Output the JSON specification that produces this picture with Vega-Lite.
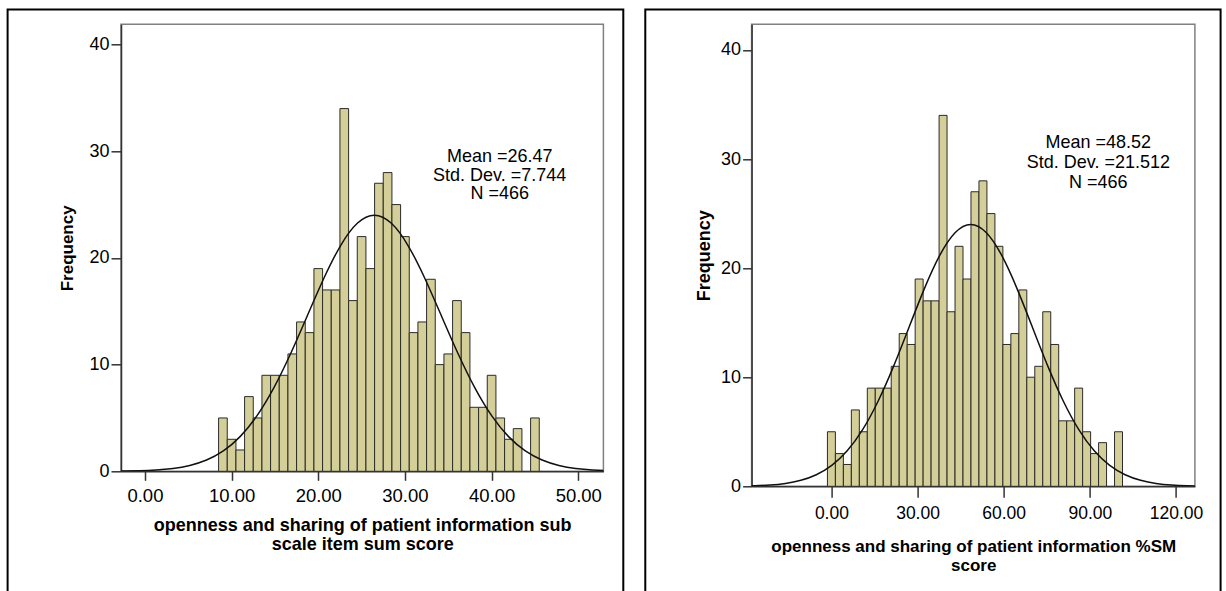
{
  "$schema": "https://vega.github.io/schema/vega-lite/v6.json",
  "background": "white",
  "padding": {"left": 5, "top": 7.3, "right": 0, "bottom": 0},
  "spacing": 16.6,
  "config": {
    "font": "Liberation Sans",
    "view": {"stroke": "#808080", "strokeWidth": 1.5},
    "axis": {"grid": false, "labelColor": "black", "titleColor": "black", "tickColor": "#333333", "domainColor": "#333333", "tickWidth": 1.5, "domainWidth": 1.5, "labelFlush": false, "titleFontWeight": "bold"}
  },
  "datasets": {
    "bins": [
      {"score": 9, "lo": 8.5, "hi": 9.5, "plo": -1.389, "phi": 1.389, "count": 5},
      {"score": 10, "lo": 9.5, "hi": 10.5, "plo": 1.389, "phi": 4.167, "count": 3},
      {"score": 11, "lo": 10.5, "hi": 11.5, "plo": 4.167, "phi": 6.944, "count": 2},
      {"score": 12, "lo": 11.5, "hi": 12.5, "plo": 6.944, "phi": 9.722, "count": 7},
      {"score": 13, "lo": 12.5, "hi": 13.5, "plo": 9.722, "phi": 12.5, "count": 5},
      {"score": 14, "lo": 13.5, "hi": 14.5, "plo": 12.5, "phi": 15.278, "count": 9},
      {"score": 15, "lo": 14.5, "hi": 15.5, "plo": 15.278, "phi": 18.056, "count": 9},
      {"score": 16, "lo": 15.5, "hi": 16.5, "plo": 18.056, "phi": 20.833, "count": 9},
      {"score": 17, "lo": 16.5, "hi": 17.5, "plo": 20.833, "phi": 23.611, "count": 11},
      {"score": 18, "lo": 17.5, "hi": 18.5, "plo": 23.611, "phi": 26.389, "count": 14},
      {"score": 19, "lo": 18.5, "hi": 19.5, "plo": 26.389, "phi": 29.167, "count": 13},
      {"score": 20, "lo": 19.5, "hi": 20.5, "plo": 29.167, "phi": 31.944, "count": 19},
      {"score": 21, "lo": 20.5, "hi": 21.5, "plo": 31.944, "phi": 34.722, "count": 17},
      {"score": 22, "lo": 21.5, "hi": 22.5, "plo": 34.722, "phi": 37.5, "count": 17},
      {"score": 23, "lo": 22.5, "hi": 23.5, "plo": 37.5, "phi": 40.278, "count": 34},
      {"score": 24, "lo": 23.5, "hi": 24.5, "plo": 40.278, "phi": 43.056, "count": 16},
      {"score": 25, "lo": 24.5, "hi": 25.5, "plo": 43.056, "phi": 45.833, "count": 22},
      {"score": 26, "lo": 25.5, "hi": 26.5, "plo": 45.833, "phi": 48.611, "count": 19},
      {"score": 27, "lo": 26.5, "hi": 27.5, "plo": 48.611, "phi": 51.389, "count": 27},
      {"score": 28, "lo": 27.5, "hi": 28.5, "plo": 51.389, "phi": 54.167, "count": 28},
      {"score": 29, "lo": 28.5, "hi": 29.5, "plo": 54.167, "phi": 56.944, "count": 25},
      {"score": 30, "lo": 29.5, "hi": 30.5, "plo": 56.944, "phi": 59.722, "count": 22},
      {"score": 31, "lo": 30.5, "hi": 31.5, "plo": 59.722, "phi": 62.5, "count": 13},
      {"score": 32, "lo": 31.5, "hi": 32.5, "plo": 62.5, "phi": 65.278, "count": 14},
      {"score": 33, "lo": 32.5, "hi": 33.5, "plo": 65.278, "phi": 68.056, "count": 18},
      {"score": 34, "lo": 33.5, "hi": 34.5, "plo": 68.056, "phi": 70.833, "count": 10},
      {"score": 35, "lo": 34.5, "hi": 35.5, "plo": 70.833, "phi": 73.611, "count": 11},
      {"score": 36, "lo": 35.5, "hi": 36.5, "plo": 73.611, "phi": 76.389, "count": 16},
      {"score": 37, "lo": 36.5, "hi": 37.5, "plo": 76.389, "phi": 79.167, "count": 13},
      {"score": 38, "lo": 37.5, "hi": 38.5, "plo": 79.167, "phi": 81.944, "count": 6},
      {"score": 39, "lo": 38.5, "hi": 39.5, "plo": 81.944, "phi": 84.722, "count": 6},
      {"score": 40, "lo": 39.5, "hi": 40.5, "plo": 84.722, "phi": 87.5, "count": 9},
      {"score": 41, "lo": 40.5, "hi": 41.5, "plo": 87.5, "phi": 90.278, "count": 5},
      {"score": 42, "lo": 41.5, "hi": 42.5, "plo": 90.278, "phi": 93.056, "count": 3},
      {"score": 43, "lo": 42.5, "hi": 43.5, "plo": 93.056, "phi": 95.833, "count": 4},
      {"score": 45, "lo": 44.5, "hi": 45.5, "plo": 98.611, "phi": 101.389, "count": 5}
    ],
    "curve": [
      {"z": -4, "xl": -4.506, "xr": -37.528, "f": 0.008},
      {"z": -3.75, "xl": -2.57, "xr": -32.15, "f": 0.0212},
      {"z": -3.5, "xl": -0.634, "xr": -26.772, "f": 0.0525},
      {"z": -3.25, "xl": 1.302, "xr": -21.394, "f": 0.1221},
      {"z": -3, "xl": 3.238, "xr": -16.016, "f": 0.2667},
      {"z": -2.75, "xl": 5.174, "xr": -10.638, "f": 0.547},
      {"z": -2.5, "xl": 7.11, "xr": -5.26, "f": 1.055},
      {"z": -2.25, "xl": 9.046, "xr": 0.118, "f": 1.91},
      {"z": -2, "xl": 10.982, "xr": 5.496, "f": 3.249},
      {"z": -1.75, "xl": 12.918, "xr": 10.874, "f": 5.192},
      {"z": -1.5, "xl": 14.854, "xr": 16.252, "f": 7.794},
      {"z": -1.25, "xl": 16.79, "xr": 21.63, "f": 10.991},
      {"z": -1, "xl": 18.726, "xr": 27.008, "f": 14.561},
      {"z": -0.75, "xl": 20.662, "xr": 32.386, "f": 18.121},
      {"z": -0.5, "xl": 22.598, "xr": 37.764, "f": 21.186},
      {"z": -0.25, "xl": 24.534, "xr": 43.142, "f": 23.268},
      {"z": 0, "xl": 26.47, "xr": 48.52, "f": 24.007},
      {"z": 0.25, "xl": 28.406, "xr": 53.898, "f": 23.268},
      {"z": 0.5, "xl": 30.342, "xr": 59.276, "f": 21.186},
      {"z": 0.75, "xl": 32.278, "xr": 64.654, "f": 18.121},
      {"z": 1, "xl": 34.214, "xr": 70.032, "f": 14.561},
      {"z": 1.25, "xl": 36.15, "xr": 75.41, "f": 10.991},
      {"z": 1.5, "xl": 38.086, "xr": 80.788, "f": 7.794},
      {"z": 1.75, "xl": 40.022, "xr": 86.166, "f": 5.192},
      {"z": 2, "xl": 41.958, "xr": 91.544, "f": 3.249},
      {"z": 2.25, "xl": 43.894, "xr": 96.922, "f": 1.91},
      {"z": 2.5, "xl": 45.83, "xr": 102.3, "f": 1.055},
      {"z": 2.75, "xl": 47.766, "xr": 107.678, "f": 0.547},
      {"z": 3, "xl": 49.702, "xr": 113.056, "f": 0.2667},
      {"z": 3.25, "xl": 51.638, "xr": 118.434, "f": 0.1221},
      {"z": 3.5, "xl": 53.574, "xr": 123.812, "f": 0.0525},
      {"z": 3.75, "xl": 55.51, "xr": 129.19, "f": 0.0212},
      {"z": 4, "xl": 57.446, "xr": 134.568, "f": 0.008}
    ]
  },
  "hconcat": [
    {
      "width": 482.4,
      "height": 447,
      "layer": [
        {
          "data": {"name": "bins"},
          "mark": {"type": "bar", "fill": "#D4CF98", "stroke": "#2a2a2a", "strokeWidth": 1},
          "encoding": {
            "x": {"field": "lo", "type": "quantitative", "scale": {"domain": [-2.76, 52.9], "nice": false, "zero": false},
              "axis": {"values": [0, 10, 20, 30, 40, 50], "format": ".2f", "labelFontSize": 18.5, "tickSize": 9, "labelPadding": 6,
                "title": ["openness and sharing of patient  information sub", "scale item sum score"], "titleFontSize": 18, "titlePadding": 12, "titleLineHeight": 19}},
            "x2": {"field": "hi"},
            "y": {"field": "count", "type": "quantitative", "scale": {"domain": [0, 41.9], "nice": false, "zero": false},
              "axis": {"values": [0, 10, 20, 30, 40], "labelFontSize": 18, "tickSize": 10, "labelPadding": 2,
                "title": "Frequency", "titleFontSize": 17, "titlePadding": 12}},
            "y2": {"datum": 0}
          }
        },
        {
          "data": {"name": "curve"},
          "mark": {"type": "line", "color": "#111111", "strokeWidth": 1.5, "interpolate": "natural", "clip": true},
          "encoding": {
            "x": {"field": "xl", "type": "quantitative"},
            "y": {"field": "f", "type": "quantitative"}
          }
        },
        {
          "data": {"values": [{"label": "Mean =26.47\nStd. Dev. =7.744\nN =466"}]},
          "mark": {"type": "text", "lineBreak": "\n", "fontSize": 18, "lineHeight": 18.5, "align": "center", "baseline": "middle", "color": "black"},
          "encoding": {
            "x": {"datum": 40.93, "type": "quantitative"},
            "y": {"datum": 29.44, "type": "quantitative"},
            "text": {"field": "label", "type": "nominal"}
          }
        },
        {
          "data": {"values": [{"frame": "left"}]},
          "mark": {"type": "rect", "fill": "white", "fillOpacity": 0, "stroke": "black", "strokeWidth": 2},
          "encoding": {
            "x": {"datum": -15.844, "type": "quantitative"},
            "x2": {"datum": 55.196},
            "y": {"datum": 43.28, "type": "quantitative"},
            "y2": {"datum": -12.19}
          }
        }
      ]
    },
    {
      "width": 443.3,
      "height": 462,
      "layer": [
        {
          "data": {"name": "bins"},
          "mark": {"type": "bar", "fill": "#D4CF98", "stroke": "#2a2a2a", "strokeWidth": 1},
          "encoding": {
            "x": {"field": "plo", "type": "quantitative", "scale": {"domain": [-27.8, 126.6], "nice": false, "zero": false},
              "axis": {"values": [0, 30, 60, 90, 120], "format": ".2f", "labelFontSize": 17.5, "tickSize": 11, "labelPadding": 7,
                "title": ["openness and sharing  of patient information %SM", "score"], "titleFontSize": 17, "titlePadding": 17, "titleLineHeight": 19}},
            "x2": {"field": "phi"},
            "y": {"field": "count", "type": "quantitative", "scale": {"domain": [0, 42.35], "nice": false, "zero": false},
              "axis": {"values": [0, 10, 20, 30, 40], "labelFontSize": 18, "tickSize": 9, "labelPadding": 2,
                "title": "Frequency", "titleFontSize": 18, "titlePadding": 7}},
            "y2": {"datum": 0}
          }
        },
        {
          "data": {"name": "curve"},
          "mark": {"type": "line", "color": "#111111", "strokeWidth": 1.5, "interpolate": "natural", "clip": true},
          "encoding": {
            "x": {"field": "xr", "type": "quantitative"},
            "y": {"field": "f", "type": "quantitative"}
          }
        },
        {
          "data": {"values": [{"label": "Mean =48.52\nStd. Dev. =21.512\nN =466"}]},
          "mark": {"type": "text", "lineBreak": "\n", "fontSize": 18, "lineHeight": 20, "align": "center", "baseline": "middle", "color": "black"},
          "encoding": {
            "x": {"datum": 92.96, "type": "quantitative"},
            "y": {"datum": 31.5, "type": "quantitative"},
            "text": {"field": "label", "type": "nominal"}
          }
        },
        {
          "data": {"values": [{"frame": "right"}]},
          "mark": {"type": "rect", "fill": "white", "fillOpacity": 0, "stroke": "black", "strokeWidth": 2},
          "encoding": {
            "x": {"datum": -64.83, "type": "quantitative"},
            "x2": {"datum": 135.55},
            "y": {"datum": 43.697, "type": "quantitative"},
            "y2": {"datum": -10.54}
          }
        }
      ]
    }
  ]
}
